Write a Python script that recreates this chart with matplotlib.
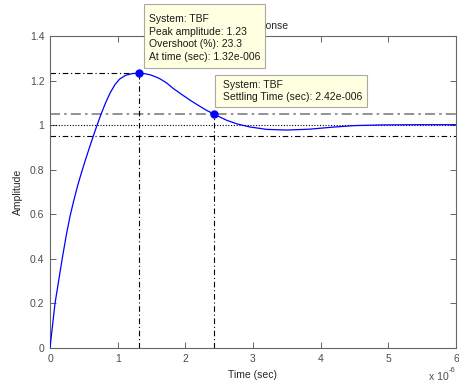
import matplotlib
matplotlib.use("Agg")
import matplotlib.pyplot as plt
from matplotlib.patches import Rectangle

plt.rcParams['font.family'] = ['Liberation Sans', 'DejaVu Sans']

# Step response samples (time in units of 1e-6 s)
time_us = [0, 0.074, 0.18, 0.24, 0.295, 0.35, 0.41, 0.468, 0.53, 0.60, 0.65, 0.69, 0.753,
           0.82, 0.886, 0.96, 1.03, 1.12, 1.22, 1.32, 1.40, 1.48, 1.56, 1.625, 1.72, 1.82,
           1.95, 2.07, 2.19, 2.31, 2.42, 2.52, 2.61, 2.76, 2.95, 3.2, 3.5, 3.84, 4.18,
           4.5, 4.9, 5.4, 6.0]
amplitude = [0, 0.20, 0.40, 0.505, 0.59, 0.66, 0.73, 0.79, 0.85, 0.915, 0.96, 0.995, 1.048,
             1.099, 1.143, 1.182, 1.207, 1.224, 1.2315, 1.233, 1.231, 1.226, 1.217, 1.208, 1.19, 1.165,
             1.137, 1.112, 1.089, 1.067, 1.05, 1.035, 1.022, 1.006, 0.992, 0.981, 0.978, 0.982, 0.991,
             0.998, 1.001, 1.002, 1.002]

peak_time = 1.32
peak_amp = 1.233
settle_time = 2.42
settle_amp = 1.05
final_value = 1.0
band_hi = 1.05
band_lo = 0.95

xticks = [0, 1, 2, 3, 4, 5, 6]
yticks = [0, 0.2, 0.4, 0.6, 0.8, 1.0, 1.2, 1.4]
yticklabels = ['0', '0.2', '0.4', '0.6', '0.8', '1', '1.2', '1.4']

tip1_lines = ["System: TBF", "Peak amplitude: 1.23", "Overshoot (%): 23.3", "At time (sec): 1.32e-006"]
tip2_lines = ["System: TBF", "Settling Time (sec): 2.42e-006"]

W, H = 459, 381
fig = plt.figure(figsize=(W / 100, H / 100), dpi=100)
ax = fig.add_axes([50 / W, 1 - 348 / H, (456 - 50) / W, (348 - 36) / H])

dashdot = (0, (5, 2.5, 1, 2.5))
ax.plot([0, 6], [band_hi, band_hi], color='#808080', lw=1.2, linestyle=(0, (6, 2.5, 1.5, 2.5)), zorder=2)
ax.plot([0, 6], [final_value, final_value], color='black', lw=0.8, linestyle=(0, (1, 1.5)), zorder=2)
ax.plot([0, 6], [band_lo, band_lo], color='black', lw=0.8, linestyle=dashdot, zorder=2)
ax.plot([0, peak_time], [peak_amp, peak_amp], color='black', lw=0.8, linestyle=dashdot, zorder=2)
ax.plot([peak_time, peak_time], [0, peak_amp], color='black', lw=0.8, linestyle=dashdot, zorder=2)
ax.plot([settle_time, settle_time], [0, settle_amp], color='black', lw=0.8, linestyle=dashdot, zorder=2)

ax.plot(time_us, amplitude, color='#0000ff', lw=0.9, zorder=3)
ax.plot([peak_time, settle_time], [peak_amp, settle_amp], 'o', color='#0000ff',
        markersize=5, zorder=4)

ax.set_xlim(0, 6)
ax.set_ylim(0, 1.4)
ax.set_xticks(xticks)
ax.set_xticklabels([str(v) for v in xticks])
ax.set_yticks(yticks)
ax.set_yticklabels(yticklabels)

grey = '#666666'
for s in ax.spines.values():
    s.set_color(grey)
    s.set_linewidth(0.8)
ax.tick_params(direction='in', length=4, width=0.7, color=grey, labelcolor='#4d4d4d',
               labelsize=7.5, top=True, right=True, pad=4)

ax.set_xlabel('Time (sec)', fontsize=7.5, color='#262626', labelpad=5)
ax.set_ylabel('Amplitude', fontsize=7.5, color='#262626', labelpad=5)
ax.set_title('Step Response', fontsize=7.5, color='#262626', pad=5)

fig.text(449 / W, 1 - 377 / H, 'x 10', fontsize=7.5, color='#4d4d4d', ha='right', va='center')
fig.text(449 / W, 1 - 371 / H, '-6', fontsize=5.5, color='#4d4d4d', ha='left', va='center')


def tip(x0, y0, x1, y1, tx, ys, lines):
    fig.patches.append(Rectangle((x0 / W, 1 - y1 / H), (x1 - x0) / W, (y1 - y0) / H,
                                 transform=fig.transFigure, facecolor='#ffffe1',
                                 edgecolor='#a8a8a8', linewidth=0.8, zorder=10))
    for y, line in zip(ys, lines):
        fig.text(tx / W, 1 - y / H, line, fontsize=7.5, color='#1a1a1a',
                 ha='left', va='center', zorder=11)


tip(144, 4, 265, 68, 149, [19, 31.7, 44.3, 57], tip1_lines)
tip(215, 75, 367, 107, 223, [85, 97], tip2_lines)

fig.savefig('out.png', dpi=100, facecolor='white')
